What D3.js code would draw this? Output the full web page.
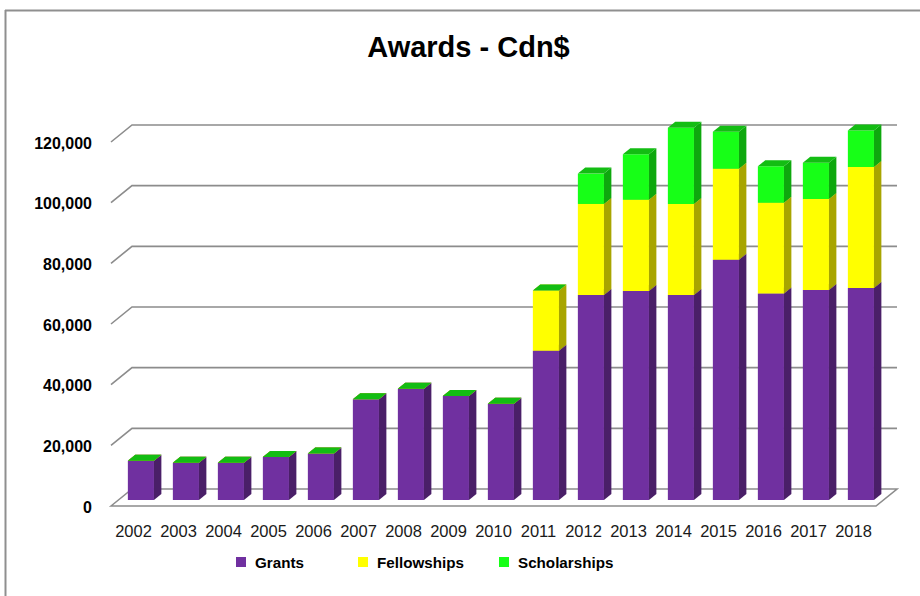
<!DOCTYPE html>
<html>
<head>
<meta charset="utf-8">
<script src="https://cdn.jsdelivr.net/npm/d3@7"></script>
<style>
  html, body { margin: 0; padding: 0; background: #fff; }
  svg { display: block; font-family: "Liberation Sans", Arial, sans-serif; }
</style>
</head>
<body>
<svg id="chart" width="920" height="596"></svg>
<script>
(function () {
  "use strict";

  const years = ["2002", "2003", "2004", "2005", "2006", "2007", "2008", "2009", "2010",
    "2011", "2012", "2013", "2014", "2015", "2016", "2017", "2018"];
  const grants = [12900, 12300, 12300, 14200, 15300, 33200, 36700, 34300, 31700,
    49200, 67600, 68900, 67600, 79200, 68100, 69200, 69900];
  const fellowships = [0, 0, 0, 0, 0, 0, 0, 0, 0,
    19900, 30000, 30100, 30000, 30000, 29900, 30000, 39900];
  const scholarships = [0, 0, 0, 0, 0, 0, 0, 0, 0,
    0, 10000, 15000, 25100, 12200, 12000, 12000, 12000];
  const seriesNames = ["Grants", "Fellowships", "Scholarships"];
  const yTicks = [0, 20000, 40000, 60000, 80000, 100000, 120000];

  const colors = {
    Grants: { front: "#7030a0", side: "#4a1f68", top: "#5c2885" },
    Fellowships: { front: "#ffff00", side: "#a8a500", top: "#cccc00" },
    Scholarships: { front: "#17ff17", side: "#0ea80e", top: "#13bd13" },
  };

  const svg = d3.select("#chart");
  const grid = "#8c8c8c";

  // chart frame (only top/left visible in the picture)
  svg.append("line").attr("x1", 5.5).attr("y1", 10).attr("x2", 5.5).attr("y2", 596)
    .attr("stroke", "#8f8f8f").attr("stroke-width", 2);
  svg.append("line").attr("x1", 5).attr("y1", 10.5).attr("x2", 920).attr("y2", 10.5)
    .attr("stroke", "#8f8f8f").attr("stroke-width", 2);

  svg.append("text")
    .attr("x", 468.5).attr("y", 57)
    .attr("text-anchor", "middle")
    .attr("font-size", 29).attr("font-weight", "bold")
    .attr("fill", "#000")
    .text("Awards - Cdn$");

  // back wall coordinates; depth vector goes toward the viewer
  const depthX = -21, depthY = 17;
  const x = d3.scaleBand().domain(years).range([132, 897])
    .paddingInner(0.42).paddingOuter(0.21);
  const y = d3.scaleLinear().domain([0, 120000]).range([489, 125]);
  const backX = 132, backRight = 897;

  const pt = (px, py, t) => [px + depthX * t, py + depthY * t];

  // floor
  const floor = [pt(backX, y(0), 1), pt(backX, y(0), 0), pt(backRight, y(0), 0), pt(backRight, y(0), 1)];
  svg.append("path")
    .attr("d", "M" + floor.join("L") + "Z")
    .attr("fill", "#fff").attr("stroke", grid).attr("stroke-width", 1.6);

  // gridlines on side + back wall
  const gl = svg.append("g");
  yTicks.forEach((v) => {
    if (v === 0) return;
    const a = pt(backX, y(v), 1), b = pt(backX, y(v), 0), c = pt(backRight, y(v), 0);
    gl.append("path").attr("d", `M${a}L${b}L${c}`)
      .attr("fill", "none").attr("stroke", grid).attr("stroke-width", 1.6);
  });

  // y tick labels at the front plane
  svg.append("g").selectAll("text").data(yTicks).enter().append("text")
    .attr("x", 92)
    .attr("y", (v) => y(v) + depthY + 1)
    .attr("dy", "0.35em")
    .attr("text-anchor", "end")
    .attr("font-size", 16).attr("font-weight", "bold").attr("fill", "#000")
    .text((v) => d3.format(",")(v));

  // stacked 3D bars
  const rows = years.map((yr, i) => ({
    year: yr, Grants: grants[i], Fellowships: fellowships[i], Scholarships: scholarships[i],
  }));
  const stacked = d3.stack().keys(seriesNames)(rows);

  const tFront = 11 / 17, tBack = 5 / 17;
  const bars = svg.append("g");
  years.forEach((yr, i) => {
    const x0 = x(yr), x1 = x(yr) + x.bandwidth();
    stacked.forEach((s) => {
      const c = colors[s.key];
      const lo = y(s[i][0]), hi = y(s[i][1]);
      const f = [pt(x0, lo, tFront), pt(x1, lo, tFront), pt(x1, hi, tFront), pt(x0, hi, tFront)];
      const sd = [pt(x1, lo, tFront), pt(x1, lo, tBack), pt(x1, hi, tBack), pt(x1, hi, tFront)];
      const tp = [pt(x0, hi, tFront), pt(x1, hi, tFront), pt(x1, hi, tBack), pt(x0, hi, tBack)];
      if (hi < lo) {
        bars.append("path").attr("d", "M" + f.join("L") + "Z").attr("fill", c.front);
        bars.append("path").attr("d", "M" + sd.join("L") + "Z").attr("fill", c.side);
      }
      bars.append("path").attr("d", "M" + tp.join("L") + "Z").attr("fill", c.top);
    });
  });

  // category labels at front plane
  svg.append("g").selectAll("text").data(years).enter().append("text")
    .attr("x", (d) => x(d) + x.bandwidth() / 2 + depthX)
    .attr("y", 537)
    .attr("text-anchor", "middle")
    .attr("font-size", 16.5).attr("fill", "#1a1a1a")
    .text((d) => d);

  // legend
  const legendX = [236, 358, 499];
  const lg = svg.append("g");
  seriesNames.forEach((name, i) => {
    lg.append("rect").attr("x", legendX[i]).attr("y", 557).attr("width", 10).attr("height", 10)
      .attr("fill", colors[name].front);
    lg.append("text").attr("x", legendX[i] + 19).attr("y", 567.5)
      .attr("font-size", 15.2).attr("font-weight", "bold").attr("fill", "#000")
      .text(name);
  });
})();
</script>
</body>
</html>
